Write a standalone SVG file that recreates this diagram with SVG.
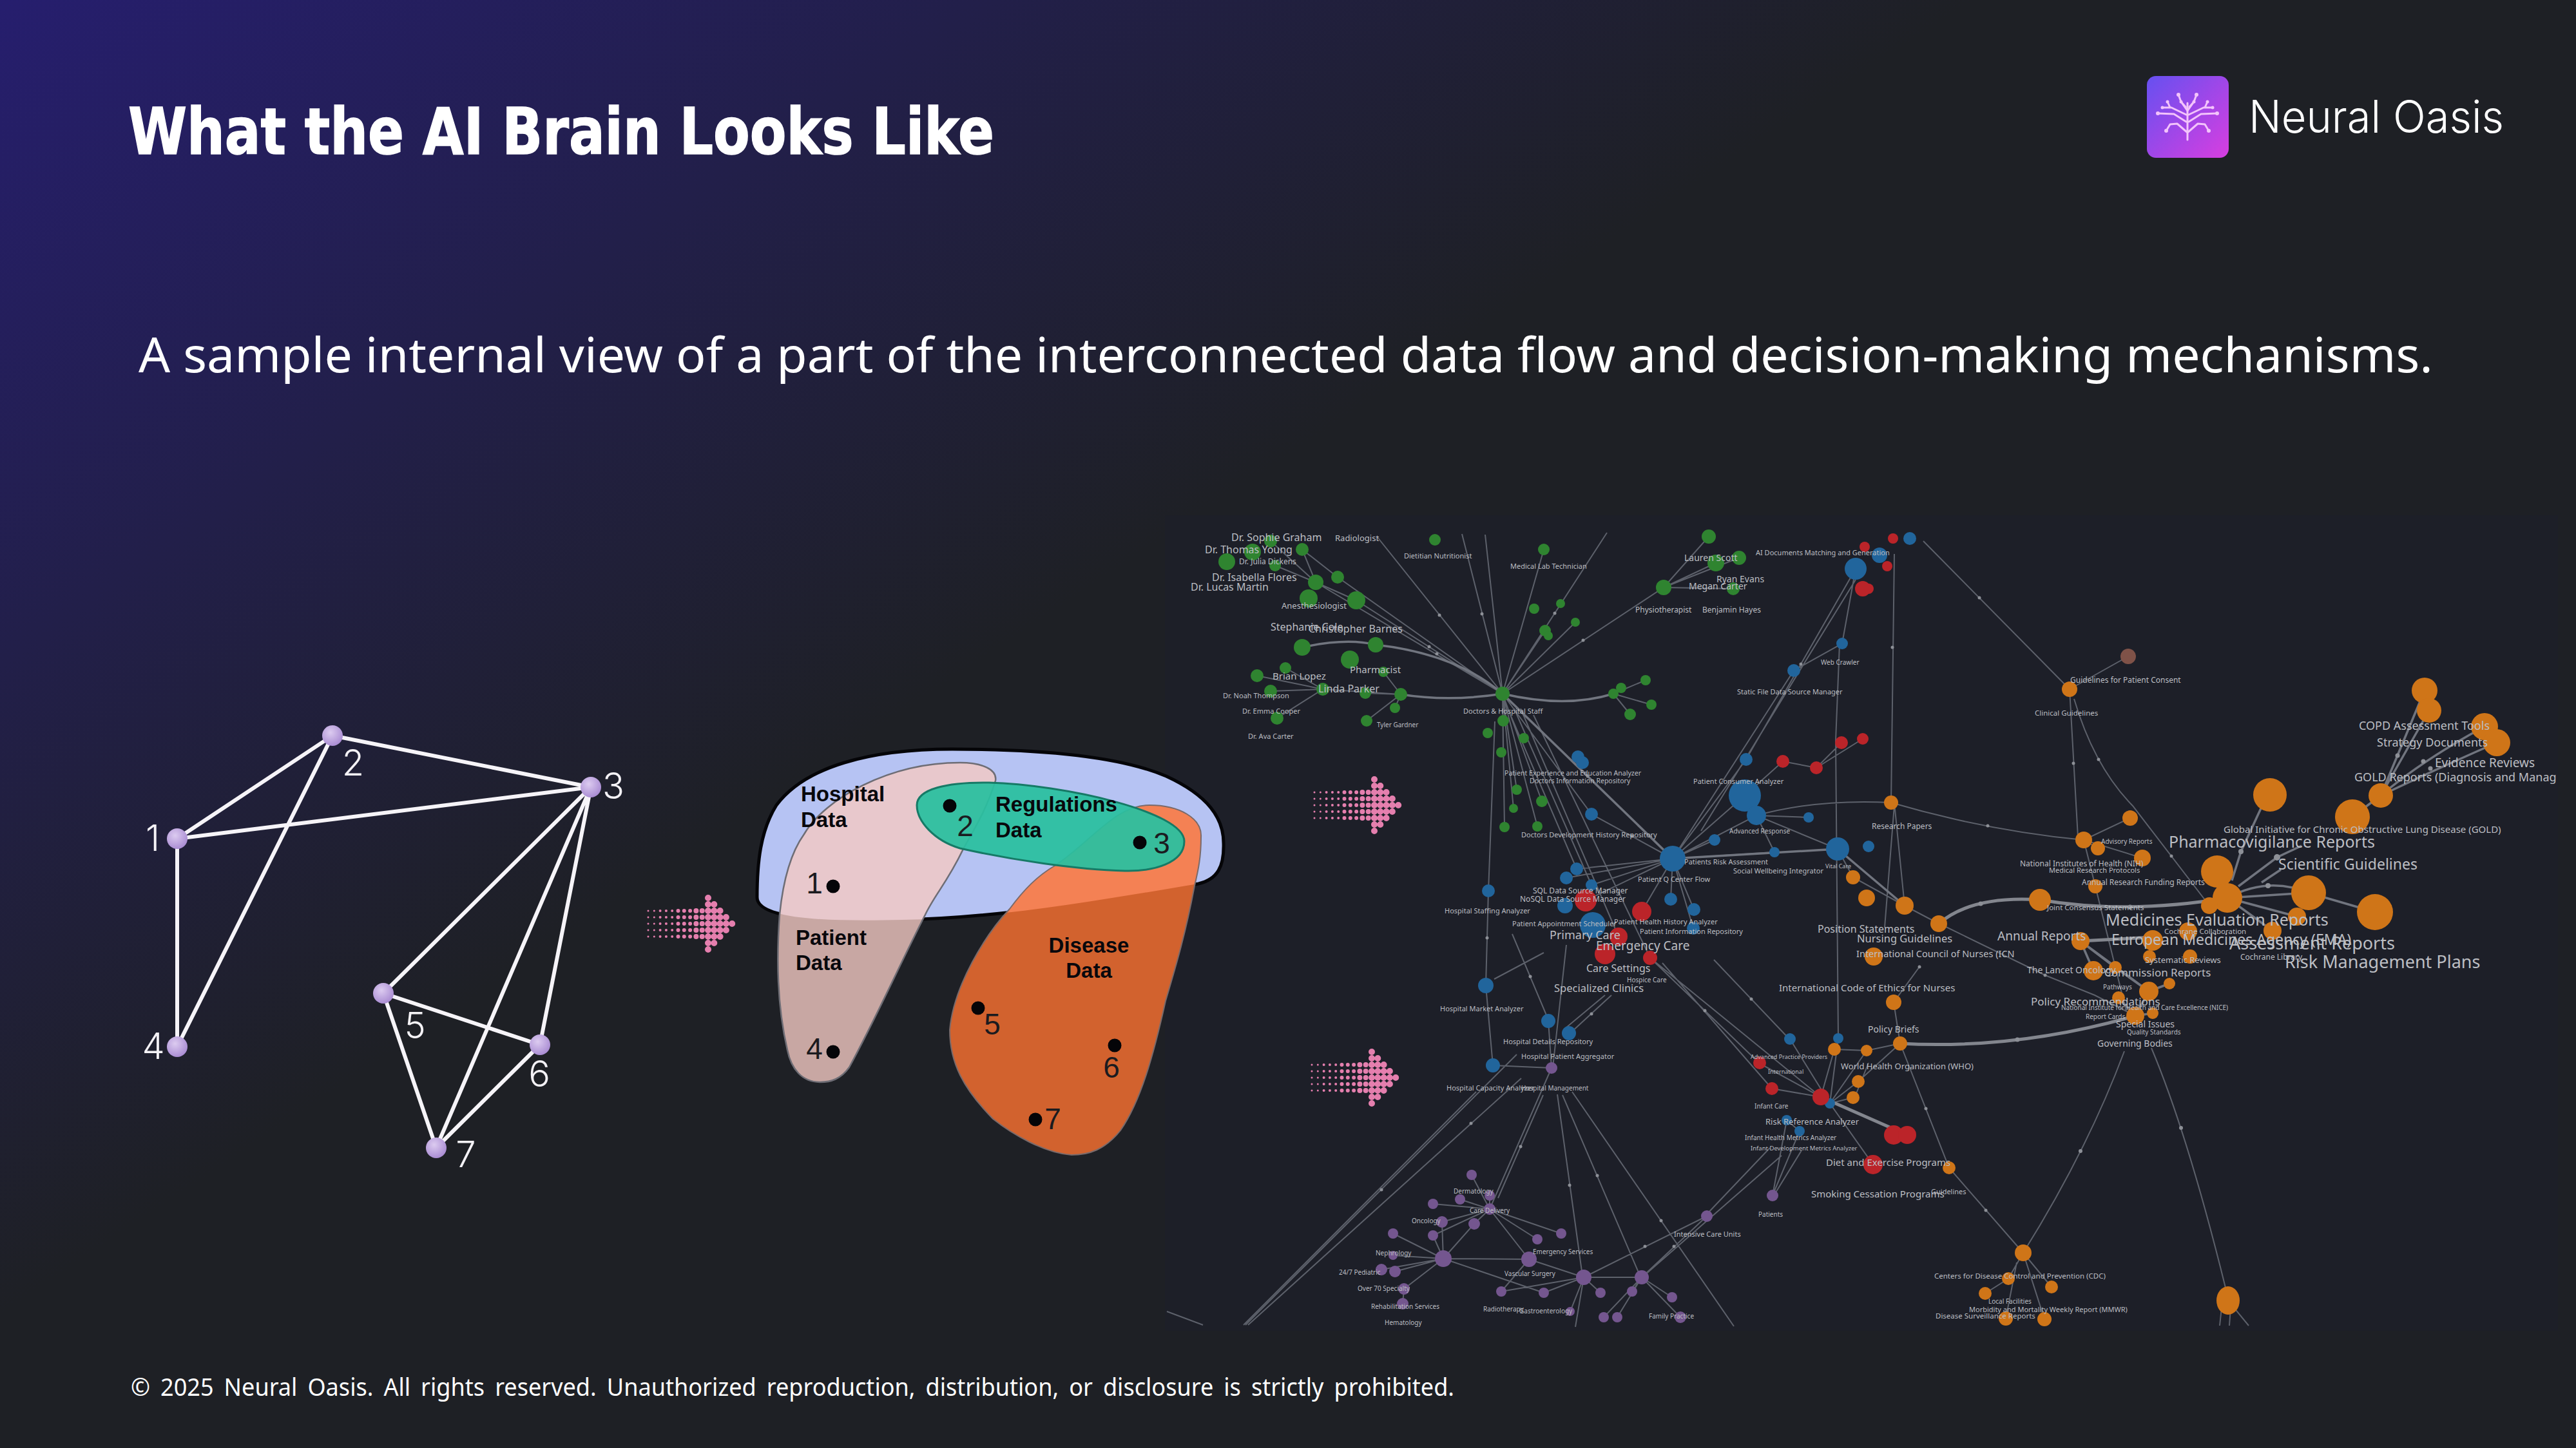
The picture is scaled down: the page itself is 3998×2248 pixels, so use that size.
<svg xmlns="http://www.w3.org/2000/svg" xmlns:xlink="http://www.w3.org/1999/xlink" width="3998" height="2248" viewBox="0 0 3998 2248">
<style>
.ttl{font-family:"DejaVu Sans","Liberation Sans",sans-serif;font-weight:700;fill:#fff;stroke:#fff;stroke-width:1.5}
.sub{font-family:"Noto Sans","Liberation Sans",sans-serif;fill:#fff}
.num{font-family:"Inter","Liberation Sans",sans-serif;font-weight:300;font-size:56px;fill:#f4f2f6;text-anchor:middle}
.vn{font-family:"Liberation Sans",sans-serif;font-size:46px;fill:#1b1b1f;text-anchor:middle}
.vl{font-family:"Liberation Sans",sans-serif;font-weight:700;font-size:33px;fill:#08080c}
.vd{fill:#050508}
.gl{stroke:#f6f4f8;stroke-width:6;stroke-linecap:round;fill:none}
.e{stroke:#5d616b;stroke-width:2;fill:none}
.et{stroke:#71757f;stroke-width:3.5;fill:none}
.eb{stroke:#83868e;stroke-width:5;fill:none}
.gr circle{fill:#2f8430}
.bl circle{fill:#21659c}
.rd circle{fill:#bb2429}
.or circle{fill:#cf7518}
.pu circle{fill:#74568f}
.md circle{fill:#8d9097}
.nl text{font-family:"Noto Sans","Liberation Sans",sans-serif;fill:#bcbec3}
.lg{stroke:#f3c4fb;stroke-width:3;fill:none;stroke-linecap:round;stroke-linejoin:round}
</style>
<defs>
<linearGradient id="bg" gradientUnits="userSpaceOnUse" x1="0" y1="0" x2="942" y2="1413">
<stop offset="0" stop-color="#261e6e"/><stop offset="1" stop-color="#1e2025"/>
</linearGradient>
<linearGradient id="logoG" x1="0" y1="0" x2="1" y2="1">
<stop offset="0" stop-color="#6650f0"/><stop offset="1" stop-color="#d83ee0"/>
</linearGradient>
<radialGradient id="ball" cx=".4" cy=".35" r=".75">
<stop offset="0" stop-color="#dccbf0"/><stop offset="1" stop-color="#a384cf"/>
</radialGradient>
<path id="hospitalShape" d="M1175,1393 C1175,1340 1180,1290 1205,1250 C1250,1190 1350,1163 1478,1163 C1620,1163 1740,1175 1810,1205 C1875,1235 1899,1270 1899,1309 C1900,1345 1890,1365 1860,1372 C1720,1395 1560,1425 1400,1428 C1300,1430 1175,1430 1175,1393Z"/>
<path id="patientShape" d="M1490,1184 C1525,1184 1548,1195 1545,1212 C1530,1260 1510,1290 1494,1320 C1470,1370 1450,1390 1436,1420 C1395,1500 1360,1580 1318,1657 C1305,1675 1290,1680 1273,1680 C1245,1680 1228,1660 1222,1630 C1208,1570 1204,1500 1210,1420 C1216,1360 1230,1320 1248,1295 C1280,1240 1380,1184 1490,1184Z"/>
<path id="diseaseShape" d="M1784,1250 C1830,1250 1866,1270 1864,1300 C1864,1330 1860,1350 1854,1375 C1840,1450 1825,1500 1809,1554 C1790,1640 1770,1710 1739,1755 C1715,1785 1690,1793 1663,1793 C1620,1790 1570,1760 1541,1737 C1495,1690 1474,1650 1474,1599 C1480,1530 1530,1450 1567,1411 C1590,1380 1610,1360 1637,1344 C1690,1310 1730,1250 1784,1250Z"/>
<clipPath id="inHospital"><use href="#hospitalShape"/></clipPath>
<g id="dotArrow" fill="none" stroke="#e57fae" stroke-linecap="round">
<path stroke-width="3" stroke-dasharray="0 10" d="M0,-20V21M9.3,-20V21"/>
<path stroke-width="4" stroke-dasharray="0 10" d="M18.6,-20V21M27.9,-20V21M37.2,-20V21"/>
<path stroke-width="6" stroke-dasharray="0 10" d="M46.5,-20V21M55.8,-20V21M65.1,-20V21"/>
<path stroke-width="8" stroke-dasharray="0 10" d="M74.4,-20V21M83.7,-20V21"/>
<path stroke-width="10" stroke-dasharray="0 10" d="M93,-40V41M102.3,-30V31M111.6,-20V21M120.9,-10V11M130.2,0V1"/>
</g>
</defs>
<rect id="background" width="3998" height="2248" fill="url(#bg)"/>
<rect id="network-panel" x="1808" y="800" width="2162" height="1266" fill="#1d1f28"/>

<text id="title" class="ttl" x="199" y="239" font-size="100" textLength="1344" lengthAdjust="spacingAndGlyphs">What the AI Brain Looks Like</text>
<text id="subtitle" class="sub" x="215" y="578" font-size="75" textLength="3561" lengthAdjust="spacingAndGlyphs">A sample internal view of a part of the interconnected data flow and decision-making mechanisms.</text>
<text id="footer" class="sub" x="203" y="2167" font-size="38" word-spacing="7" textLength="2054" lengthAdjust="spacingAndGlyphs">© 2025 Neural Oasis. All rights reserved. Unauthorized reproduction, distribution, or disclosure is strictly prohibited.</text>

<g id="logo">
<rect x="3332" y="118" width="127" height="127" rx="14" fill="url(#logoG)"/>
<g id="logo-half">
<path class="lg" d="M3395,217V160M3395,172L3385,158L3381,147M3385,158L3392,166M3393,178L3370,167L3356,167M3368,167L3364,158M3393,189L3374,177L3349,176M3394,205L3379,192L3368,193L3362,203"/>
<path class="lg" transform="matrix(-1 0 0 1 6790 0)" d="M3395,172L3385,158L3381,147M3385,158L3392,166M3393,178L3370,167L3356,167M3368,167L3364,158M3393,189L3374,177L3349,176M3394,205L3379,192L3368,193L3362,203"/>
<g fill="#f3c4fb"><circle cx="3381" cy="147" r="3"/><circle cx="3409" cy="147" r="3"/><circle cx="3349" cy="176" r="3"/><circle cx="3441" cy="176" r="3"/><circle cx="3362" cy="203" r="3"/><circle cx="3428" cy="203" r="3"/><circle cx="3356" cy="167" r="2.5"/><circle cx="3434" cy="167" r="2.5"/><circle cx="3364" cy="158" r="2.5"/><circle cx="3426" cy="158" r="2.5"/><circle cx="3385" cy="158" r="2.5"/><circle cx="3405" cy="158" r="2.5"/></g>
</g>
<text x="3490" y="206" font-family="Inter, 'Liberation Sans', sans-serif" font-weight="300" font-size="70" fill="#fff" textLength="396" lengthAdjust="spacingAndGlyphs">Neural Oasis</text>
</g>

<g id="graph-connectors">
<path class="gl" d="M275,1302L516,1142M275,1302L917,1222M275,1302V1625M516,1142L917,1222M516,1142L275,1625M917,1222L595,1542M917,1222L677,1782M917,1222L838,1622M595,1542L838,1622M595,1542L677,1782M838,1622L677,1782"/>
</g>
<g id="graph-node-1"><circle cx="275" cy="1302" r="16" fill="url(#ball)"/><text class="num" x="237" y="1321">1</text></g>
<g id="graph-node-2"><circle cx="516" cy="1142" r="16" fill="url(#ball)"/><text class="num" x="548" y="1204">2</text></g>
<g id="graph-node-3"><circle cx="917" cy="1222" r="16" fill="url(#ball)"/><text class="num" x="952" y="1240">3</text></g>
<g id="graph-node-4"><circle cx="275" cy="1625" r="16" fill="url(#ball)"/><text class="num" x="238" y="1644">4</text></g>
<g id="graph-node-5"><circle cx="595" cy="1542" r="16" fill="url(#ball)"/><text class="num" x="644" y="1612">5</text></g>
<g id="graph-node-6"><circle cx="838" cy="1622" r="16" fill="url(#ball)"/><text class="num" x="837" y="1687">6</text></g>
<g id="graph-node-7"><circle cx="677" cy="1782" r="16" fill="url(#ball)"/><text class="num" x="723" y="1812">7</text></g>

<use id="arrow-1" href="#dotArrow" x="1006" y="1434"/>
<use id="arrow-2" href="#dotArrow" x="2040" y="1250"/>
<use id="arrow-3" href="#dotArrow" x="2036" y="1673"/>

<g id="venn-hospital"><use href="#hospitalShape" fill="#b6c3f3" stroke="#050508" stroke-width="5"/></g>
<g id="venn-patient">
<use href="#patientShape" fill="#c8a7a3"/>
<use href="#patientShape" fill="#e8c8cc" clip-path="url(#inHospital)"/>
<use href="#patientShape" fill="none" stroke="#6e6d75" stroke-width="2.5"/>
</g>
<g id="venn-disease">
<use href="#diseaseShape" fill="#d2622e"/>
<use href="#diseaseShape" fill="#f48154" clip-path="url(#inHospital)"/>
<use href="#diseaseShape" fill="none" stroke="#7a6a6a" stroke-width="2"/>
</g>
<g id="venn-regulations">
<path d="M1423,1250 C1423,1225 1470,1214 1535,1215 C1650,1218 1838,1260 1838,1306 C1838,1340 1790,1353 1746,1352 C1670,1350 1570,1335 1490,1317 C1450,1305 1423,1275 1423,1250Z" fill="#2abf9f" fill-opacity=".94" stroke="#167a66" stroke-width="3"/>
</g>
<g id="venn-labels">
<text class="vl" x="1243" y="1244">Hospital</text><text class="vl" x="1243" y="1284">Data</text>
<text class="vl" x="1545" y="1260">Regulations</text><text class="vl" x="1545" y="1300">Data</text>
<text class="vl" x="1235" y="1467">Patient</text><text class="vl" x="1235" y="1506">Data</text>
<text class="vl" x="1690" y="1479" text-anchor="middle">Disease</text><text class="vl" x="1690" y="1518" text-anchor="middle">Data</text>
</g>
<g id="venn-points">
<circle class="vd" cx="1474" cy="1251" r="10.5"/><text class="vn" x="1498" y="1298">2</text>
<circle class="vd" cx="1769" cy="1308" r="10.5"/><text class="vn" x="1803" y="1325">3</text>
<circle class="vd" cx="1293" cy="1376" r="10.5"/><text class="vn" x="1264" y="1387">1</text>
<circle class="vd" cx="1293" cy="1633" r="10.5"/><text class="vn" x="1264" y="1644">4</text>
<circle class="vd" cx="1518" cy="1565" r="10.5"/><text class="vn" x="1540" y="1606">5</text>
<circle class="vd" cx="1730" cy="1623" r="10.5"/><text class="vn" x="1725" y="1673">6</text>
<circle class="vd" cx="1607" cy="1738" r="10.5"/><text class="vn" x="1634" y="1753">7</text>
</g>

<g id="network-edges">
<path class="e" d="M2332,1077L2042,904M2332,1077L2105,932M2332,1077L2076,896M2042,904L2021,853M2042,904L1979,878M2042,904L1972,840M2076,896L2021,853M2105,932L2042,904M2332,1077L2137,833M2332,1077L2269,829M2332,1077L2305,830M2332,1077L2396,853M2332,1077L2494,827M2332,1077L2398,979M2332,1077L2445,966M2332,1077L2582,912M2582,912L2652,833M2582,912L2663,874M2582,912L2699,866M2582,912L2690,914M2174,1078L2053,1070M2174,1078L2119,1076M2174,1078L2147,1043M2174,1078L2165,1099M2053,1070L1951,1049M2053,1070L1972,1073M2053,1070L1995,1037M2053,1070L1982,1115M2174,1078L2121,1119M2504,1077L2516,1068M2504,1077L2554,1056M2504,1077L2563,1094M2504,1077L2530,1109M2332,1077L2470,1264L2596,1333M2332,1077L2333,1168M2332,1077L2354,1226M2332,1077L2393,1244M2332,1077L2349,1255M2332,1077L2335,1284M2332,1077L2386,1283M2340,1100L2447,1349M2350,1100L2470,1374M2360,1100L2512,1454M2380,1110L2561,1487M2320,1120L2310,1383L2306,1530L2317,1654M2596,1333L2447,1349M2596,1333L2431,1363M2596,1333L2470,1374M2596,1333L2461,1398M2596,1333L2548,1415M2596,1333L2593,1396M2596,1333L2629,1412M2596,1333L2628,1441M2596,1333L2710,1179L2880,883M2596,1333L2784,1041L2859,999L2880,883M2640,1290L2880,900M2855,1000L2849,1150L2853,1612M2596,1333L2661,1304M2596,1333L2708,1235M2596,1333L2726,1266M2596,1333L2754,1323M2596,1333L2852,1318M2726,1266L2852,1318M2726,1266L2807,1269M2726,1266L2754,1323M2708,1235L2767,1182L2819,1192L2858,1153M2819,1192L2891,1147M2726,1266Q2820,1240 2935,1246M2935,1246L2940,860M2940,1250L2925,1440M2940,1246L2956,1406M2935,1246Q3085,1290 3234,1304M2985,840L3212,1070M3212,1070L3225,1300M3219,1085Q3250,1190 3310,1251L3429,1406M3212,1070L3303,1019M3234,1304L3306,1270M3234,1304L3256,1317M3234,1304L3325,1332M3234,1304L3252,1376L3300,1570M3009,1434L2956,1406L2876,1362L2852,1318M3010,1434L3174,1514L3251,1545L3314,1577M2949,1620L2939,1556M2939,1556L2979,1501M2949,1620L2897,1631L2847,1629M2949,1620L2884,1679M2900,1650L2880,1700M2953,1630L3025,1813L3140,1945Q3240,1785 3297,1632M3339,1627Q3395,1760 3454,1999M3458,2019L3490,2058M3448,2030L3445,2058M3462,2030L3460,2058M3140,1945L3117,1985L3081,2008M3140,1945L3184,1998M3140,1945L3173,2048M3130,1960L3113,2047M2840,1713L2907,1808M2561,1487L2731,1651M2580,1495L2750,1690M2561,1487L2826,1703M2660,1490L2777,1613M2731,1651L2826,1703M2750,1690L2826,1703M2778,1613L2840,1713M2853,1612L2840,1713M2847,1629L2826,1703M2897,1631L2840,1713M2876,1704L2840,1713M2884,1679L2840,1713M2773,1739L2793,1756M2773,1739L2751,1856M2793,1756L2751,1856M2747,1782L2649,1885M2765,1794L2551,1981M2796,1786L2753,1856M2649,1888L2458,1983M2649,1888L2548,1983M2408,1658L2317,1654M2408,1658L2403,1585M2431,1467L2410,1657M2347,1450L2403,1583M2501,1545L2438,1603M2491,1545L2431,1595M2396,1479L2319,1520M2354,1637L1933,2057M2361,1674L1937,2057M2291,1695L1930,2057M1811,2036L1867,2057M2408,1658L2312,1877M2395,1700L2325,1860M2417,1699L2456,1981M2425,1700L2545,1980M2440,1695L2691,2059M2312,1877L2224,1869M2312,1877L2266,1862M2312,1877L2284,1824M2312,1877L2312,1856M2312,1877L2238,1897M2312,1877L2288,1900M2312,1877L2224,1918M2312,1877L2423,1915M2312,1877L2386,1924M2312,1877L2373,1955M2288,1900L2240,1954M2238,1897L2240,1954M2224,1918L2240,1954M2162,1915L2240,1954M2240,1954L2162,1949M2240,1954L2144,1971M2240,1954L2165,1974M2240,1954L2179,2001M2240,1954L2373,1955L2330,2005M2240,1954L2396,2007M2373,1955L2458,1983M2458,1983L2548,1983M2458,1983L2330,2005M2458,1983L2396,2007M2458,1983L2484,2007M2458,1983L2437,2036M2548,1983L2533,2005M2548,1983L2595,2014M2548,1983L2608,2045M2548,1983L2510,2045M2548,1983L2489,2045M2179,2001L2177,2024M2458,1983L2445,2060"/>
<path class="et" d="M2021,1005Q2090,990 2135,1001Q2260,1015 2332,1077M2332,1077Q2250,1090 2174,1078M2332,1077Q2430,1100 2504,1077M2332,1077L2596,1333M3229,1461L3249,1507M3229,1461L3283,1502M3229,1461L3335,1539M3335,1539L3283,1502M3335,1539L3367,1527M3335,1539L3314,1577M3314,1577L3288,1549M3314,1577L3341,1573M3457,1394L3441,1353M3457,1394L3429,1406M3457,1394L3565,1423M3457,1394L3527,1445M3464,1367L3478,1322L3509,1255M3474,1376L3534,1331L3572,1313M3510,1370L3540,1350M3695,1235L3763,1072M3695,1235L3770,1103M3695,1235Q3760,1180 3856,1128M3695,1235Q3790,1190 3875,1153M3651,1268L3695,1235M2596,1333L2852,1318M2852,1318L2956,1406M3457,1394L3583,1386L3686,1416M3457,1394Q3520,1360 3583,1386"/>
<path class="eb" d="M3457,1394Q3300,1420 3166,1397Q3060,1390 3009,1434M2949,1620Q3130,1630 3314,1577M3229,1461L3341,1455M2826,1703L2960,1762"/>
</g>

<g id="network-edge-dots" class="md">
<circle cx="2218" cy="1004" r="2.5"/><circle cx="2234" cy="955" r="2.5"/><circle cx="2300" cy="953" r="2.5"/><circle cx="2413" cy="952" r="2.5"/><circle cx="2457" cy="994" r="2.5"/><circle cx="2230" cy="1015" r="2.5"/><circle cx="2464" cy="1205" r="2.5"/><circle cx="2533" cy="1298" r="2.5"/><circle cx="2795" cy="1031" r="2.5"/><circle cx="2937" cy="1005" r="2.5"/><circle cx="3072" cy="928" r="2.5"/><circle cx="3085" cy="1282" r="2.5"/><circle cx="3218" cy="1185" r="2.5"/><circle cx="3257" cy="1179" r="2.5"/><circle cx="3370" cy="1329" r="2.5"/><circle cx="3074" cy="1403" r="3.5"/><circle cx="3306" cy="1408" r="3.5"/><circle cx="3478" cy="1322" r="4"/><circle cx="3534" cy="1331" r="5"/><circle cx="3520" cy="1375" r="4"/><circle cx="3721" cy="1173" r="3.5"/><circle cx="3761" cy="1182" r="3.5"/><circle cx="3772" cy="1193" r="3.5"/><circle cx="3131" cy="1614" r="3.5"/><circle cx="3229" cy="1787" r="3"/><circle cx="3385" cy="1751" r="3"/><circle cx="2989" cy="1721" r="2.5"/><circle cx="3082" cy="1879" r="2.5"/><circle cx="3174" cy="1514" r="2.5"/><circle cx="2979" cy="1501" r="2.5"/><circle cx="2308" cy="1456" r="2.5"/><circle cx="2144" cy="1847" r="2.5"/><circle cx="2283" cy="1744" r="2.5"/><circle cx="2436" cy="1840" r="2.5"/><circle cx="2479" cy="1825" r="2.5"/><circle cx="2578" cy="1895" r="2.5"/><circle cx="2598" cy="1935" r="2.5"/><circle cx="2553" cy="1935" r="2.5"/><circle cx="2360" cy="1780" r="2.5"/><circle cx="2470" cy="1574" r="2.5"/><circle cx="2375" cy="1516" r="2.5"/><circle cx="2718" cy="1551" r="2.5"/><circle cx="2646" cy="1569" r="2.5"/></g>

<g id="network-nodes">
<g class="gr">
<circle cx="1904" cy="872" r="13"/><circle cx="1944" cy="857" r="13"/><circle cx="1972" cy="840" r="10"/><circle cx="2021" cy="853" r="10"/><circle cx="1979" cy="878" r="9"/><circle cx="2042" cy="904" r="12"/><circle cx="2076" cy="896" r="10"/><circle cx="2031" cy="929" r="14"/><circle cx="2105" cy="932" r="14"/><circle cx="2021" cy="1005" r="13"/><circle cx="2135" cy="1001" r="12"/><circle cx="2095" cy="1024" r="14"/><circle cx="1995" cy="1037" r="9"/><circle cx="1951" cy="1049" r="10"/><circle cx="1972" cy="1073" r="10"/><circle cx="2053" cy="1070" r="10"/><circle cx="2119" cy="1076" r="9"/><circle cx="2174" cy="1078" r="10"/><circle cx="2147" cy="1043" r="8"/><circle cx="1982" cy="1115" r="10"/><circle cx="2121" cy="1119" r="9"/><circle cx="2165" cy="1099" r="8"/><circle cx="2227" cy="838" r="9"/><circle cx="2396" cy="853" r="9"/><circle cx="2381" cy="945" r="8"/><circle cx="2422" cy="937" r="7"/><circle cx="2398" cy="979" r="9"/><circle cx="2445" cy="966" r="7"/><circle cx="2403" cy="987" r="7"/><circle cx="2582" cy="912" r="12"/><circle cx="2663" cy="874" r="13"/><circle cx="2699" cy="866" r="11"/><circle cx="2652" cy="833" r="11"/><circle cx="2690" cy="914" r="10"/><circle cx="2332" cy="1077" r="11"/><circle cx="2504" cy="1077" r="8"/><circle cx="2516" cy="1068" r="8"/><circle cx="2554" cy="1056" r="8"/><circle cx="2563" cy="1094" r="8"/><circle cx="2530" cy="1109" r="9"/><circle cx="2333" cy="1119" r="9"/><circle cx="2309" cy="1138" r="8"/><circle cx="2365" cy="1146" r="8"/><circle cx="2330" cy="1168" r="8"/><circle cx="2354" cy="1226" r="8"/><circle cx="2393" cy="1244" r="9"/><circle cx="2349" cy="1255" r="7"/><circle cx="2335" cy="1284" r="8"/><circle cx="2386" cy="1283" r="8"/>
</g>
<g class="bl">
<circle cx="2880" cy="883" r="17"/><circle cx="2859" cy="999" r="9"/><circle cx="2784" cy="1041" r="10"/><circle cx="2710" cy="1179" r="10"/><circle cx="2708" cy="1235" r="25"/><circle cx="2726" cy="1266" r="15"/><circle cx="2449" cy="1175" r="10"/><circle cx="2456" cy="1184" r="10"/><circle cx="2470" cy="1264" r="10"/><circle cx="2596" cy="1333" r="20"/><circle cx="2661" cy="1304" r="9"/><circle cx="2754" cy="1323" r="8"/><circle cx="2807" cy="1269" r="8"/><circle cx="2852" cy="1318" r="18"/><circle cx="2900" cy="1314" r="9"/><circle cx="2447" cy="1349" r="10"/><circle cx="2431" cy="1363" r="10"/><circle cx="2470" cy="1374" r="9"/><circle cx="2310" cy="1383" r="10"/><circle cx="2593" cy="1396" r="10"/><circle cx="2629" cy="1412" r="10"/><circle cx="2429" cy="1406" r="12"/><circle cx="2472" cy="1436" r="20"/><circle cx="2628" cy="1441" r="10"/><circle cx="2964" cy="836" r="10"/><circle cx="2917" cy="862" r="12"/><circle cx="2306" cy="1530" r="12"/><circle cx="2403" cy="1585" r="11"/><circle cx="2435" cy="1604" r="11"/><circle cx="2317" cy="1654" r="11"/><circle cx="2778" cy="1613" r="9"/><circle cx="2853" cy="1612" r="8"/><circle cx="2840" cy="1713" r="8"/><circle cx="2773" cy="1739" r="8"/><circle cx="2793" cy="1756" r="8"/>
</g>
<g class="rd">
<circle cx="2858" cy="1153" r="10"/><circle cx="2891" cy="1147" r="9"/><circle cx="2767" cy="1182" r="10"/><circle cx="2819" cy="1192" r="10"/><circle cx="2461" cy="1398" r="17"/><circle cx="2548" cy="1415" r="15"/><circle cx="2512" cy="1454" r="14"/><circle cx="2491" cy="1481" r="16"/><circle cx="2561" cy="1487" r="11"/><circle cx="2938" cy="836" r="8"/><circle cx="2929" cy="879" r="8"/><circle cx="2900" cy="914" r="8"/><circle cx="2894" cy="849" r="8"/><circle cx="2891" cy="914" r="12"/><circle cx="2731" cy="1650" r="10"/><circle cx="2750" cy="1690" r="10"/><circle cx="2826" cy="1703" r="13"/><circle cx="2939" cy="1762" r="15"/><circle cx="2960" cy="1762" r="14"/><circle cx="2907" cy="1808" r="15"/>
</g>
<g class="or">
<circle cx="3212" cy="1070" r="12"/><circle cx="3763" cy="1072" r="20"/><circle cx="3770" cy="1103" r="19"/><circle cx="3856" cy="1128" r="21"/><circle cx="3875" cy="1153" r="21"/><circle cx="3695" cy="1235" r="19"/><circle cx="3651" cy="1268" r="27"/><circle cx="3523" cy="1234" r="26"/><circle cx="3441" cy="1353" r="25"/><circle cx="3457" cy="1394" r="23"/><circle cx="3583" cy="1386" r="27"/><circle cx="3686" cy="1416" r="28"/><circle cx="3429" cy="1406" r="13"/><circle cx="3565" cy="1423" r="14"/><circle cx="3527" cy="1445" r="14"/><circle cx="3396" cy="1446" r="14"/><circle cx="3341" cy="1460" r="16"/><circle cx="3229" cy="1461" r="14"/><circle cx="3166" cy="1397" r="17"/><circle cx="2935" cy="1246" r="11"/><circle cx="3306" cy="1270" r="12"/><circle cx="3234" cy="1304" r="13"/><circle cx="3256" cy="1317" r="11"/><circle cx="3325" cy="1332" r="13"/><circle cx="3252" cy="1376" r="11"/><circle cx="3009" cy="1434" r="13"/><circle cx="2956" cy="1406" r="14"/><circle cx="3336" cy="1485" r="10"/><circle cx="3399" cy="1485" r="11"/><circle cx="2876" cy="1362" r="11"/><circle cx="2897" cy="1394" r="13"/><circle cx="2908" cy="1485" r="14"/><circle cx="2939" cy="1556" r="12"/><circle cx="2949" cy="1620" r="11"/><circle cx="2897" cy="1631" r="9"/><circle cx="2847" cy="1629" r="10"/><circle cx="2884" cy="1679" r="10"/><circle cx="2876" cy="1704" r="10"/><circle cx="3025" cy="1813" r="10"/><circle cx="3249" cy="1507" r="15"/><circle cx="3283" cy="1502" r="10"/><circle cx="3335" cy="1539" r="15"/><circle cx="3367" cy="1527" r="9"/><circle cx="3288" cy="1549" r="10"/><circle cx="3314" cy="1577" r="14"/><circle cx="3341" cy="1573" r="9"/><circle cx="3140" cy="1945" r="13"/><circle cx="3117" cy="1985" r="10"/><circle cx="3184" cy="1998" r="10"/><circle cx="3081" cy="2008" r="10"/><circle cx="3113" cy="2047" r="11"/><circle cx="3173" cy="2048" r="11"/><ellipse cx="3458" cy="2019" rx="18" ry="22" fill="#cf7518"/>
</g>
<circle cx="3303" cy="1019" r="12" fill="#7f5248"/>
<g class="pu">
<circle cx="2408" cy="1658" r="9"/><circle cx="2284" cy="1824" r="8"/><circle cx="2224" cy="1869" r="8"/><circle cx="2266" cy="1862" r="8"/><circle cx="2312" cy="1856" r="8"/><circle cx="2312" cy="1877" r="9"/><circle cx="2238" cy="1897" r="9"/><circle cx="2288" cy="1900" r="9"/><circle cx="2224" cy="1918" r="8"/><circle cx="2162" cy="1915" r="8"/><circle cx="2423" cy="1915" r="8"/><circle cx="2386" cy="1924" r="8"/><circle cx="2240" cy="1954" r="13"/><circle cx="2373" cy="1955" r="12"/><circle cx="2162" cy="1949" r="7"/><circle cx="2144" cy="1971" r="9"/><circle cx="2165" cy="1974" r="9"/><circle cx="2458" cy="1983" r="12"/><circle cx="2548" cy="1983" r="11"/><circle cx="2179" cy="2001" r="9"/><circle cx="2177" cy="2024" r="9"/><circle cx="2330" cy="2005" r="8"/><circle cx="2396" cy="2007" r="8"/><circle cx="2484" cy="2007" r="8"/><circle cx="2533" cy="2005" r="8"/><circle cx="2595" cy="2014" r="8"/><circle cx="2437" cy="2036" r="7"/><circle cx="2489" cy="2045" r="8"/><circle cx="2510" cy="2045" r="8"/><circle cx="2608" cy="2045" r="9"/><circle cx="2649" cy="1888" r="9"/><circle cx="2751" cy="1856" r="9"/>
</g>
</g>

<g id="network-labels" class="nl">
<text x="1911" y="840" font-size="16">Dr. Sophie Graham</text>
<text x="1870" y="859" font-size="16">Dr. Thomas Young</text>
<text x="1923" y="876" font-size="12">Dr. Julia Dickens</text>
<text x="1881" y="902" font-size="16">Dr. Isabella Flores</text>
<text x="1848" y="917" font-size="16">Dr. Lucas Martin</text>
<text x="1989" y="945" font-size="13">Anesthesiologist</text>
<text x="2072" y="840" font-size="13">Radiologist</text>
<text x="1972" y="979" font-size="16">Stephanie Cole</text>
<text x="2031" y="982" font-size="16">Christopher Barnes</text>
<text x="2095" y="1045" font-size="15">Pharmacist</text>
<text x="1975" y="1055" font-size="15">Brian Lopez</text>
<text x="2046" y="1075" font-size="16">Linda Parker</text>
<text x="1898" y="1084" font-size="11">Dr. Noah Thompson</text>
<text x="1928" y="1108" font-size="11">Dr. Emma Cooper</text>
<text x="1937" y="1147" font-size="11">Dr. Ava Carter</text>
<text x="2137" y="1129" font-size="10">Tyler Gardner</text>
<text x="2179" y="867" font-size="11">Dietitian Nutritionist</text>
<text x="2344" y="883" font-size="11">Medical Lab Technician</text>
<text x="2614" y="871" font-size="14">Lauren Scott</text>
<text x="2664" y="904" font-size="14">Ryan Evans</text>
<text x="2621" y="915" font-size="14">Megan Carter</text>
<text x="2538" y="951" font-size="12">Physiotherapist</text>
<text x="2642" y="951" font-size="12">Benjamin Hayes</text>
<text x="2725" y="862" font-size="11">AI Documents Matching and Generation</text>
<text x="2271" y="1108" font-size="11">Doctors &amp; Hospital Staff</text>
<text x="2335" y="1204" font-size="10.6">Patient Experience and Education Analyzer</text>
<text x="2374" y="1216" font-size="10.5">Doctors Information Repository</text>
<text x="2696" y="1078" font-size="11">Static File Data Source Manager</text>
<text x="2826" y="1032" font-size="10">Web Crawler</text>
<text x="2628" y="1217" font-size="11">Patient Consumer Analyzer</text>
<text x="2361" y="1300" font-size="11">Doctors Development History Repository</text>
<text x="2242" y="1418" font-size="11">Hospital Staffing Analyzer</text>
<text x="2379" y="1387" font-size="12">SQL Data Source Manager</text>
<text x="2359" y="1400" font-size="12">NoSQL Data Source Manager</text>
<text x="2347" y="1438" font-size="11">Patient Appointment Scheduler</text>
<text x="2505" y="1435" font-size="11">Patient Health History Analyzer</text>
<text x="2545" y="1450" font-size="11">Patient Information Repository</text>
<text x="2405" y="1458" font-size="18">Primary Care</text>
<text x="2477" y="1475" font-size="19">Emergency Care</text>
<text x="2542" y="1369" font-size="11">Patient Q Center Flow</text>
<text x="2614" y="1342" font-size="11">Patients Risk Assessment</text>
<text x="2690" y="1356" font-size="11">Social Wellbeing Integrator</text>
<text x="2684" y="1294" font-size="10">Advanced Response</text>
<text x="2833" y="1348" font-size="9">Vital Care</text>
<text x="2905" y="1287" font-size="12">Research Papers</text>
<text x="3213" y="1060" font-size="12">Guidelines for Patient Consent</text>
<text x="3158" y="1111" font-size="11.5">Clinical Guidelines</text>
<text x="3661" y="1133" font-size="18">COPD Assessment Tools</text>
<text x="3689" y="1159" font-size="18">Strategy Documents</text>
<text x="3779" y="1191" font-size="19">Evidence Reviews</text>
<text x="3654" y="1213" font-size="18">GOLD Reports (Diagnosis and Manag</text>
<text x="3451" y="1293" font-size="15">Global Initiative for Chronic Obstructive Lung Disease (GOLD)</text>
<text x="3366" y="1316" font-size="25">Pharmacovigilance Reports</text>
<text x="3536" y="1350" font-size="23">Scientific Guidelines</text>
<text x="3261" y="1310" font-size="10">Advisory Reports</text>
<text x="3135" y="1345" font-size="12">National Institutes of Health (NIH)</text>
<text x="3180" y="1355" font-size="11">Medical Research Protocols</text>
<text x="3231" y="1374" font-size="12">Annual Research Funding Reports</text>
<text x="3177" y="1413" font-size="11.5">Joint Consensus Statements</text>
<text x="3268" y="1437" font-size="25">Medicines Evaluation Reports</text>
<text x="3359" y="1450" font-size="11.5">Cochrane Collaboration</text>
<text x="3277" y="1467" font-size="23">European Medicines Agency (EMA)</text>
<text x="3460" y="1474" font-size="27">Assessment Reports</text>
<text x="3546" y="1503" font-size="27">Risk Management Plans</text>
<text x="3100" y="1460" font-size="19">Annual Reports</text>
<text x="2821" y="1448" font-size="16">Position Statements</text>
<text x="2882" y="1463" font-size="16.5">Nursing Guidelines</text>
<text x="2881" y="1486" font-size="14.5">International Council of Nurses (ICN</text>
<text x="2761" y="1539" font-size="15">International Code of Ethics for Nurses</text>
<text x="2899" y="1603" font-size="14">Policy Briefs</text>
<text x="2857" y="1660" font-size="13">World Health Organization (WHO)</text>
<text x="3146" y="1511" font-size="14">The Lancet Oncology</text>
<text x="3266" y="1516" font-size="17">Commission Reports</text>
<text x="3329" y="1495" font-size="13">Systematic Reviews</text>
<text x="3477" y="1490" font-size="12">Cochrane Library</text>
<text x="3152" y="1561" font-size="17">Policy Recommendations</text>
<text x="3199" y="1568" font-size="10">National Institute for Health and Care Excellence (NICE)</text>
<text x="3264" y="1536" font-size="10">Pathways</text>
<text x="3237" y="1582" font-size="10">Report Cards</text>
<text x="3284" y="1595" font-size="14">Special Issues</text>
<text x="3301" y="1606" font-size="10">Quality Standards</text>
<text x="3255" y="1625" font-size="14">Governing Bodies</text>
<text x="2834" y="1810" font-size="15">Diet and Exercise Programs</text>
<text x="2997" y="1854" font-size="11">Guidelines</text>
<text x="2811" y="1859" font-size="15">Smoking Cessation Programs</text>
<text x="2729" y="1889" font-size="10">Patients</text>
<text x="2723" y="1721" font-size="10">Infant Care</text>
<text x="2740" y="1746" font-size="13">Risk Reference Analyzer</text>
<text x="2708" y="1770" font-size="10">Infant Health Metrics Analyzer</text>
<text x="2717" y="1786" font-size="9.5">Infant Development Metrics Analyzer</text>
<text x="2717" y="1644" font-size="9">Advanced Practice Providers</text>
<text x="2744" y="1667" font-size="9">International</text>
<text x="3002" y="1985" font-size="11.5">Centers for Disease Control and Prevention (CDC)</text>
<text x="3086" y="2024" font-size="10">Local Facilities</text>
<text x="3056" y="2037" font-size="11">Morbidity and Mortality Weekly Report (MMWR)</text>
<text x="3004" y="2047" font-size="11.5">Disease Surveillance Reports</text>
<text x="2462" y="1509" font-size="16">Care Settings</text>
<text x="2412" y="1540" font-size="16.5">Specialized Clinics</text>
<text x="2525" y="1525" font-size="10">Hospice Care</text>
<text x="2235" y="1570" font-size="11">Hospital Market Analyzer</text>
<text x="2333" y="1621" font-size="11">Hospital Details Repository</text>
<text x="2361" y="1644" font-size="11">Hospital Patient Aggregator</text>
<text x="2245" y="1693" font-size="11">Hospital Capacity Analyzer</text>
<text x="2361" y="1693" font-size="10">Hospital Management</text>
<text x="2256" y="1853" font-size="10">Dermatology</text>
<text x="2281" y="1883" font-size="10">Care Delivery</text>
<text x="2191" y="1899" font-size="10">Oncology</text>
<text x="2379" y="1947" font-size="10">Emergency Services</text>
<text x="2135" y="1949" font-size="10">Nephrology</text>
<text x="2078" y="1979" font-size="10">24/7 Pediatric</text>
<text x="2335" y="1981" font-size="10">Vascular Surgery</text>
<text x="2107" y="2004" font-size="10">Over 70 Specialty</text>
<text x="2128" y="2032" font-size="10">Rehabilitation Services</text>
<text x="2149" y="2057" font-size="10">Hematology</text>
<text x="2302" y="2036" font-size="10">Radiotherapy</text>
<text x="2358" y="2039" font-size="10">Gastroenterology</text>
<text x="2559" y="2047" font-size="10">Family Practice</text>
<text x="2598" y="1920" font-size="11">Intensive Care Units</text>
</g>
</svg>
